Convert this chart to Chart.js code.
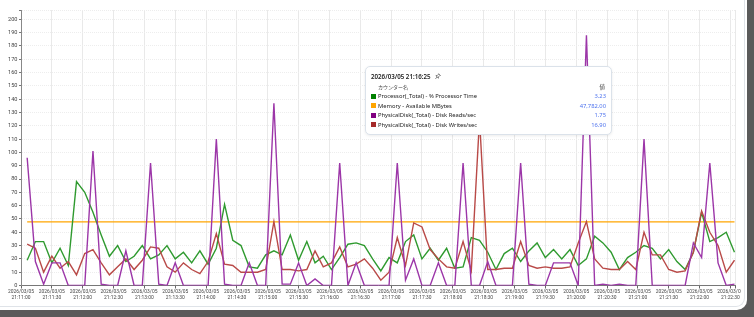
<!DOCTYPE html>
<html>
<head>
<meta charset="utf-8">
<script src="https://cdn.jsdelivr.net/npm/chart.js@4.4.1/dist/chart.umd.min.js"></script>
<style>
  html, body { margin: 0; padding: 0; background: #fff; }
  #frame { position: relative; width: 754px; height: 317px; background: #5a5a5a; overflow: hidden; }
  #card { position: absolute; left: 0; top: 0; width: 747px; height: 310px; background: #fff;
          border-bottom-right-radius: 10px; }
  #card::after { content: ""; position: absolute; left: -2px; top: -2px; width: 746px; height: 308px;
          border-right: 1px solid #dfe3e8; border-bottom: 1px solid #dfe3e8; border-bottom-right-radius: 9px; }
  #clip { position: absolute; left: 0; top: 0; width: 741px; height: 306px; overflow: hidden; }
  #chart { position: absolute; left: 0; top: 0; }
  #tip { position: absolute; left: 365px; top: 66px; width: 245px; height: 67px; background: #fff;
         border: 1px solid #dbe2ea; border-radius: 5px; box-shadow: 0 1px 3px rgba(0,0,0,0.08);
         font-family: "Noto Sans", "Noto Sans CJK JP", sans-serif; color: #222; }
  #tip .title { position: absolute; left: 5px; top: 4.5px; font-size: 6.2px; font-weight: 600; white-space: nowrap; }
  #tip .title svg { vertical-align: -1px; margin-left: 4px; }
  #tip .head { position: absolute; left: 12px; top: 16px; font-size: 5px; color: #444; font-family: "Noto Sans CJK JP", sans-serif; }
  #tip .headv { position: absolute; right: 6px; top: 15.5px; font-size: 5.5px; color: #444; font-family: "Noto Sans CJK JP", sans-serif; }
  #tip .row { position: absolute; left: 5px; right: 5px; height: 9px; font-size: 5.8px; line-height: 9px; white-space: nowrap; }
  #tip .row i { display: inline-block; width: 5px; height: 5px; margin-right: 2px; vertical-align: -0.5px; }
  #tip .row b { position: absolute; right: 0; top: 0; font-weight: normal; color: #4f74ee; }
</style>
</head>
<body>
<div id="frame">
  <div id="card"></div>
  <div id="clip"><canvas id="chart" width="754" height="317"></canvas></div>
  <div id="tip"></div>
</div>
<script>
// sample timing (seconds after 21:11:00)
const firstSample = 6;
const sampleStep = 8;

const seriesNames = [
  "Processor(_Total) - % Processor Time",
  "Memory - Available MBytes",
  "PhysicalDisk(_Total) - Disk Reads/sec",
  "PhysicalDisk(_Total) - Disk Writes/sec",
];
const legendColors = ["#008000", "#ffa500", "#800080", "#a52a2a"];
const lineColors = ["#2f9a2f", "#ffa500", "#9c36a8", "#b94a48"];
const tooltipValues = ["3.23", "47,782.00", "1.75", "16.90"];

// x tick positions, seconds after 21:11:00 (every 30 s)
const xTickSeconds = [0, 30, 60, 90, 120, 150, 180, 210, 240, 270, 300, 330, 360, 390,
  420, 450, 480, 510, 540, 570, 600, 630, 660, 690];

const processor = [19,33,33,17,28,15,78,70,55,38, 22,30,18,22,30,20,23,30,20,25,
  17,26,16,28,61,34,30,14,13,23, 26,23,38,19,33,17,22,12,21,31,
  32,30,20,11,21,17,33,38,20,28, 19,28,13,14,36,34,25,12,24,28,
  18,26,32,21,27,20,27,15,20,37, 32,25,12,21,25,30,28,20,27,18,
  12,25,55,33,36,40,25];
const memory = [47.78,47.78,47.78,47.78,47.78,47.78,47.78,47.78,47.78,47.78,
  47.78,47.78,47.78,47.78,47.78,47.78,47.78,47.78,47.78,47.78,
  47.78,47.78,47.78,47.78,47.78,47.78,47.78,47.78,47.78,47.78,
  47.78,47.78,47.78,47.78,47.78,47.78,47.78,47.78,47.78,47.78,
  47.78,47.78,47.78,47.78,47.78,47.78,47.78,47.78,47.78,47.78,
  47.78,47.78,47.78,47.78,47.78,47.78,47.78,47.78,47.78,47.78,
  47.78,47.78,47.78,47.78,47.78,47.78,47.78,47.78,47.78,47.78,
  47.78,47.78,47.78,47.78,47.78,47.78,47.78,47.78,47.78,47.78,
  47.78,47.78,47.78,47.78,47.78,47.78,47.78];
const diskReads = [96,18,1,17,17,0,0,0,101,1, 0,0,26,0,0,92,1,0,17,0,
  0,0,0,110,1,0,0,17,0,0, 137,1,1,17,0,5,0,0,92,0,
  17,0,0,0,0,92,4,20,0,0, 17,0,0,92,0,0,18,0,0,0,
  92,1,0,0,17,17,17,0,188,0, 1,0,1,0,0,110,0,0,0,0,
  0,32,21,92,17,0,1];
const diskWrites = [31,28,10,22,13,18,8,24,27,17, 8,14,20,12,19,29,28,14,10,17,
  12,9,18,39,16,15,10,10,10,12, 48,12,12,11,12,26,14,17,29,14,
  16,20,13,4,10,36,15,47,44,27, 20,14,13,33,11,125,12,12,13,13,
  33,15,13,14,13,13,14,32,48,20, 13,12,12,18,12,40,23,23,12,10,
  11,25,56,40,30,10,19];

const xMin = 0, xMax = 694.5, yMax = 207;

function toPoints(values) {
  return values.map((v, i) => ({ x: firstSample + i * sampleStep, y: v }));
}

function timeLabel(sec) {
  const total = 21 * 3600 + 11 * 60 + sec;
  const pad = (n) => String(n).padStart(2, "0");
  const h = Math.floor(total / 3600);
  const m = Math.floor((total % 3600) / 60);
  return ["2026/03/05", `${pad(h)}:${pad(m)}:${pad(total % 60)}`];
}

const allSeries = [processor, memory, diskReads, diskWrites];
const datasets = allSeries.map((values, i) => ({
  label: seriesNames[i],
  data: toPoints(values),
  borderColor: lineColors[i],
  borderWidth: 1.4,
  pointRadius: 0,
  tension: 0,
  order: [2, 3, 0, 1][i],
}));

new Chart(document.getElementById("chart").getContext("2d"), {
  type: "line",
  data: { datasets },
  options: {
    responsive: false,
    animation: false,
    layout: { padding: { top: 10, right: 19, left: 0, bottom: 0 } },
    plugins: { legend: { display: false }, tooltip: { enabled: false } },
    scales: {
      x: {
        type: "linear",
        min: xMin,
        max: xMax,
        afterBuildTicks: (s) => {
          s.ticks = xTickSeconds.map((v) => ({ value: v })).concat([{ value: xMax }]);
        },
        afterFit: (s) => { s.height = 31.5; },
        grid: { color: "#e9e9e9", tickLength: 3, tickColor: "#666" },
        border: { color: "#777" },
        ticks: {
          autoSkip: false,
          maxRotation: 0,
          padding: 0.5,
          color: "#444",
          font: { family: "Roboto", size: 4.9, lineHeight: 1.25 },
          callback: (v) => (xTickSeconds.includes(v) ? timeLabel(v) : ""),
        },
      },
      y: {
        min: 0,
        max: yMax,
        afterFit: (s) => { s.width = 21; },
        grid: { color: "#ededed", tickLength: 2, tickColor: "#777" },
        border: { color: "#888", dash: [1, 1] },
        ticks: {
          stepSize: 10,
          padding: 1.5,
          color: "#444",
          font: { family: "Roboto", size: 5.6 },
          callback: (v) => (v % 10 === 0 ? v : ""),
        },
      },
    },
  },
});

// hover tooltip box shown in the screenshot
const tip = document.getElementById("tip");
let html = '<div class="title">2026/03/05 21:16:25<svg width="6" height="7" viewBox="0 0 7 8">' +
  '<path d="M4 0.5l2.5 2.5M4.5 1L2.5 3 1 3 4 6 4 4.5 6 2.5M2.5 4.5L0.5 6.8" fill="none" stroke="#333" stroke-width="0.7"/></svg></div>';
html += '<div class="head">カウンター名</div><div class="headv">値</div>';
seriesNames.forEach((name, i) => {
  html += `<div class="row" style="top:${25 + i * 9.6}px"><i style="background:${legendColors[i]}"></i>${name}<b>${tooltipValues[i]}</b></div>`;
});
tip.innerHTML = html;
</script>
</body>
</html>
